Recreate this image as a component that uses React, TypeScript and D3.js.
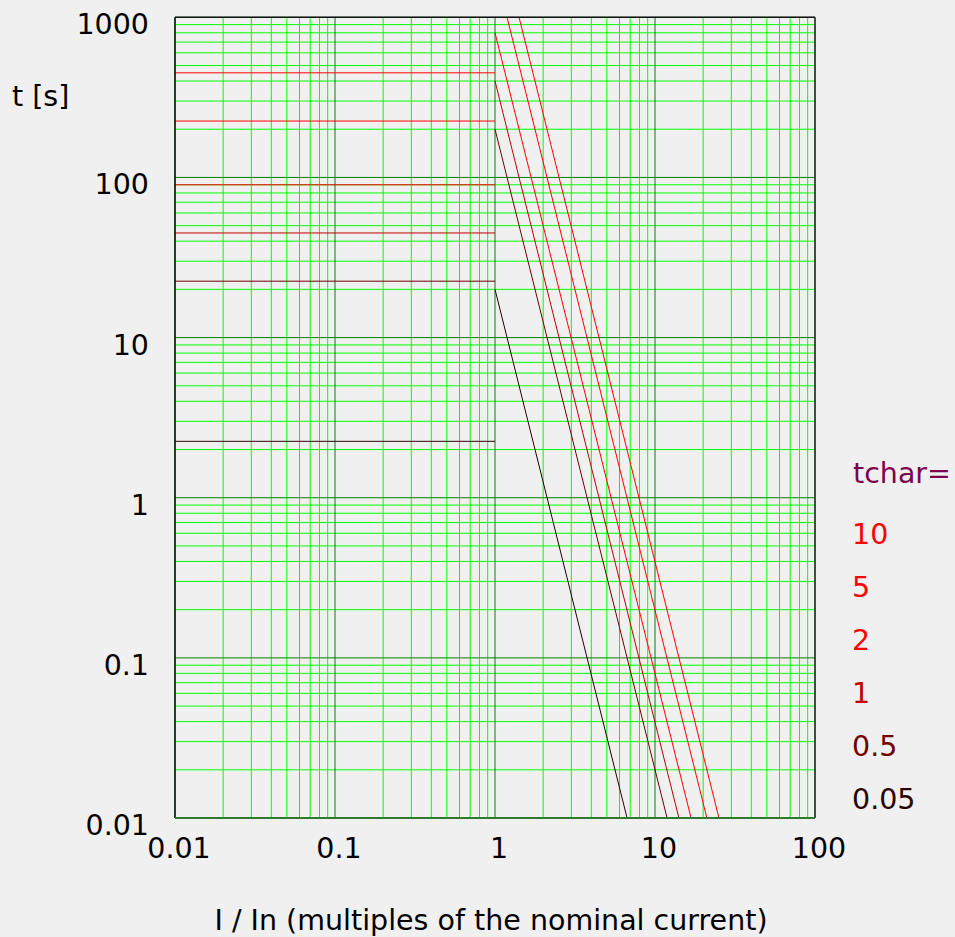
import React from "react";
import * as d3 from "d3";

// tripping characteristic data
const tchar = ["10", "5", "2", "1", "0.5", "0.05"];
const holdLevel = [450, 225, 90, 45, 22.5, 2.25]; // t [s] for I/In < 1
const startValue = [4000, 2000, 800, 400, 200, 20]; // t [s] at I/In = 1
const endCurrent = [25.1, 21.1, 16.8, 14.1, 11.9, 6.69]; // I/In where t = 0.01 s
const curveColors = ["#ff0000", "#ff0000", "#ff0000", "#c00000", "#700000", "#280000"];

const xTicks = [0.01, 0.1, 1, 10, 100];
const xTickLabels = ["0.01", "0.1", "1", "10", "100"];
const yTicks = [0.01, 0.1, 1, 10, 100, 1000];
const yTickLabels = ["0.01", "0.1", "1", "10", "100", "1000"];

const W = 955;
const H = 937;
const FONT = "DejaVu Sans, sans-serif";
const FS = 28.5;

export default function App() {
  const x = d3.scaleLog().domain([0.01, 100]).range([175, 815]);
  const y = d3.scaleLog().domain([0.01, 1000]).range([818, 17.3]);

  const minorX: number[] = [];
  for (let e = -2; e < 2; e++) for (let m = 2; m <= 9; m++) minorX.push(m * Math.pow(10, e));
  const minorY: number[] = [];
  for (let e = -2; e < 3; e++) for (let m = 2; m <= 9; m++) minorY.push(m * Math.pow(10, e));

  const line = d3
    .line<[number, number]>()
    .x((d) => x(d[0]))
    .y((d) => y(d[1]));

  const [x0, x1] = x.range();
  const [y0, y1] = y.range();

  return (
    <svg
      width={W}
      height={H}
      style={{ position: "absolute", left: 0, top: 0, background: "#f0f0f0" }}
      fontFamily={FONT}
    >
      <rect x={0} y={0} width={W} height={H} fill="#f0f0f0" />
      <defs>
        <clipPath id="plotClip">
          <rect x={x0} y={y1} width={x1 - x0} height={y0 - y1} />
        </clipPath>
      </defs>
      {/* minor grid */}
      <g stroke="#00ff00" strokeWidth={1}>
        {minorX.map((v, i) => (
          <line key={"mx" + i} x1={x(v)} x2={x(v)} y1={y1} y2={y0} />
        ))}
        {minorY.map((v, i) => (
          <line key={"my" + i} x1={x0} x2={x1} y1={y(v)} y2={y(v)} />
        ))}
      </g>
      {/* major grid */}
      <g stroke="#008000" strokeWidth={1}>
        {xTicks.map((v, i) => (
          <line key={"Mx" + i} x1={x(v)} x2={x(v)} y1={y1} y2={y0} />
        ))}
        {yTicks.map((v, i) => (
          <line key={"My" + i} x1={x0} x2={x1} y1={y(v)} y2={y(v)} />
        ))}
      </g>
      {/* curves */}
      <g clipPath="url(#plotClip)" fill="none" strokeWidth={1}>
        {tchar.map((t, i) => (
          <g key={"c" + t} stroke={curveColors[i]}>
            <path d={line([[0.01, holdLevel[i]], [1, holdLevel[i]]]) || ""} />
            <path d={line([[1, startValue[i]], [endCurrent[i], 0.01]]) || ""} />
          </g>
        ))}
      </g>
      {/* frame */}
      <line x1={x0} x2={x1} y1={y1} y2={y1} stroke="#111" strokeWidth={1.5} />
      <line x1={x0} x2={x0} y1={y1} y2={y0} stroke="#111" strokeWidth={1.5} />
      <line x1={x1} x2={x1} y1={y1} y2={y0} stroke="#223322" strokeWidth={1.5} />
      <line x1={x0} x2={x1} y1={y0} y2={y0} stroke="#2e7a2e" strokeWidth={2} />
      {/* y tick labels */}
      <g fontSize={FS} fill="#000" textAnchor="end">
        {yTicks.map((v, i) => (
          <text key={"yl" + i} x={149} y={y(v) + 17}>
            {yTickLabels[i]}
          </text>
        ))}
      </g>
      {/* x tick labels */}
      <g fontSize={FS} fill="#000" textAnchor="middle">
        {xTicks.map((v, i) => (
          <text key={"xl" + i} x={x(v) + 4} y={858}>
            {xTickLabels[i]}
          </text>
        ))}
      </g>
      <text x={12} y={106} fontSize={FS} fill="#000">
        t [s]
      </text>
      <text x={491} y={930} fontSize={FS} fill="#000" textAnchor="middle">
        I / In (multiples of the nominal current)
      </text>
      {/* legend */}
      <text x={853} y={483} fontSize={FS} fill="#800050">
        tchar=
      </text>
      {tchar.map((t, i) => (
        <text key={"lg" + t} x={852} y={544 + i * 53} fontSize={FS} fill={curveColors[i]}>
          {t}
        </text>
      ))}
    </svg>
  );
}
